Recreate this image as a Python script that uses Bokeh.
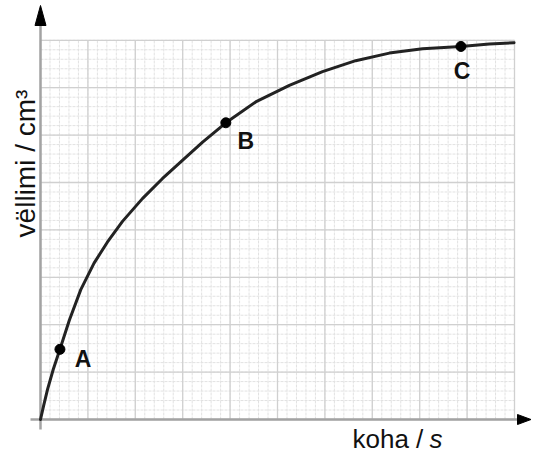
import numpy as np
from bokeh.plotting import figure
from bokeh.models import Range1d
from bokeh.embed import file_html
from bokeh.resources import INLINE
from bokeh.core.properties import value

# ---- data (x: koha / s, y: vëllimi / cm3, in grid units) ----
time_s = [0.0, 0.07, 0.15, 0.27, 0.41, 0.61, 0.85, 1.13, 1.41, 1.73, 2.15, 2.57,
          3.0, 3.42, 3.91, 4.54, 5.25, 5.95, 6.65, 7.36, 8.06, 8.87, 9.47, 9.99]
volume_cm3 = [0.0, 0.31, 0.64, 1.06, 1.48, 2.10, 2.74, 3.30, 3.74, 4.18, 4.66, 5.08,
              5.47, 5.85, 6.26, 6.70, 7.05, 7.34, 7.57, 7.73, 7.82, 7.87, 7.92, 7.95]
point_names = ["A", "B", "C"]
point_time = [0.41, 3.91, 8.87]
point_volume = [1.48, 6.26, 7.87]
x_major = list(range(0, 11))
y_major = list(range(0, 9))
minor_per_major = 5
x_label = "koha / "
x_label_unit = "s"
y_label = "vëllimi / cm³"

# ---- layout ----
W, H = 531, 455
S = 47.4                     # pixels per grid unit
OX, OY = 40, 419             # canvas pixel of the origin

def dx(px):
    return px / S

x0, x1 = -OX / S, (W - OX) / S
y0, y1 = -(H - OY) / S, OY / S

p = figure(width=W, height=H, output_backend="svg", toolbar_location=None,
           x_range=Range1d(x0, x1), y_range=Range1d(y0, y1),
           x_axis_location=None, y_axis_location=None, title=None,
           min_border=0, min_border_left=0, min_border_right=0,
           min_border_top=0, min_border_bottom=0, tools="")
p.outline_line_color = None
p.background_fill_color = "white"
p.border_fill_color = "white"
p.xgrid.visible = False
p.ygrid.visible = False

xmin, xmax = x_major[0], x_major[-1]
ymin, ymax = y_major[0], y_major[-1]

# minor grid
xm = [xmin + i / minor_per_major for i in range((xmax - xmin) * minor_per_major + 1)]
ym = [ymin + i / minor_per_major for i in range((ymax - ymin) * minor_per_major + 1)]
p.segment(x0=xm, y0=[ymin] * len(xm), x1=xm, y1=[ymax] * len(xm),
          line_color="#e2e2e2", line_width=1, line_dash="3 1")
p.segment(x0=[xmin] * len(ym), y0=ym, x1=[xmax] * len(ym), y1=ym,
          line_color="#e2e2e2", line_width=1, line_dash="3 1")
# major grid
p.segment(x0=x_major, y0=[ymin] * len(x_major), x1=x_major, y1=[ymax] * len(x_major),
          line_color="#d0d0d0", line_width=1.3)
p.segment(x0=[xmin] * len(y_major), y0=y_major, x1=[xmax] * len(y_major), y1=y_major,
          line_color="#d0d0d0", line_width=1.3)

# axes with arrow heads
axis_col = "#a3a3a3"
ytip, ybase = y1 - dx(5), y1 - dx(25)
xtip, xbase = x1 - dx(0.5), x1 - dx(14)
p.line([xmin, xmin], [ymin - dx(10), ybase], line_color=axis_col, line_width=2.5)
p.line([xmin - dx(10), xbase], [ymin, ymin], line_color=axis_col, line_width=2.5)
p.patch([xmin - dx(5.5), xmin, xmin + dx(5.5)], [ybase, ytip, ybase],
        fill_color="black", line_color="black", line_width=1)
p.patch([xbase, xtip, xbase], [ymin - dx(5), ymin, ymin + dx(5)],
        fill_color="black", line_color="black", line_width=1)

# curve and points
p.line(time_s, volume_cm3, line_color="#222222", line_width=3, line_join="round",
       line_cap="round")
p.scatter(point_time, point_volume, size=10, fill_color="black", line_color="black")

# point labels (pixel offsets right/down)
off_r = [23, 20, 1]
off_d = [10, 18, 25]
lx = [t + dx(o) for t, o in zip(point_time, off_r)]
ly = [v - dx(o) for v, o in zip(point_volume, off_d)]
p.text(lx, ly, text=point_names, text_font=value("Liberation Sans"),
       text_font_style="bold", text_font_size="23px", text_color="#111111",
       text_align="center", text_baseline="middle")

# axis titles
p.text([x0 + dx(25)], [y1 - dx(163)], text=[y_label], angle=np.pi / 2,
       text_font=value("Liberation Sans"), text_font_size="28px",
       text_color="#111111", text_align="center", text_baseline="alphabetic")
p.text([x0 + dx(352)], [y1 - dx(438)], text=[x_label],
       text_font=value("Liberation Sans"), text_font_size="26px",
       text_color="#111111", text_align="left", text_baseline="middle")
p.text([x0 + dx(429)], [y1 - dx(438)], text=[x_label_unit],
       text_font=value("Liberation Sans"), text_font_size="26px",
       text_font_style="italic", text_color="#111111",
       text_align="left", text_baseline="middle")

open("out.html", "w").write(file_html(p, INLINE))
